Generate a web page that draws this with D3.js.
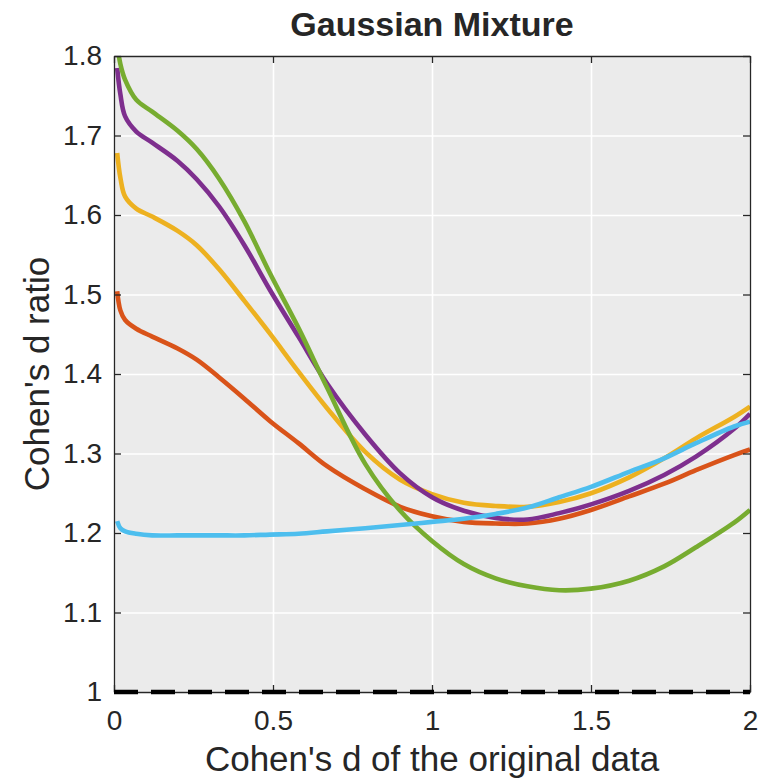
<!DOCTYPE html>
<html>
<head>
<meta charset="utf-8">
<script src="https://cdn.jsdelivr.net/npm/d3@7"></script>
<style>
  html, body { margin: 0; padding: 0; background: #ffffff; }
  svg { display: block; }
  text { font-family: "Liberation Sans", Arial, Helvetica, sans-serif; fill: #262626; }
</style>
</head>
<body>
<svg id="chart" width="777" height="782"></svg>
<script>
// ---- data ----
const xValues = [0.01, 0.02, 0.035, 0.07, 0.12, 0.2, 0.26, 0.33, 0.41, 0.49, 0.58, 0.67, 0.79, 0.9, 1.0, 1.1, 1.2, 1.3, 1.4, 1.5, 1.62, 1.73, 1.83, 1.95, 2.0];

const redSeries    = [1.504, 1.480, 1.468, 1.457, 1.447, 1.432, 1.418, 1.396, 1.369, 1.341, 1.313, 1.284, 1.255, 1.233, 1.221, 1.214, 1.212, 1.212, 1.218, 1.229, 1.246, 1.262, 1.279, 1.298, 1.305];
const yellowSeries = [1.678, 1.647, 1.623, 1.608, 1.598, 1.580, 1.562, 1.532, 1.492, 1.451, 1.403, 1.357, 1.302, 1.267, 1.249, 1.238, 1.234, 1.233, 1.239, 1.250, 1.270, 1.294, 1.319, 1.346, 1.359];
const purpleSeries = [1.785, 1.752, 1.724, 1.705, 1.691, 1.668, 1.645, 1.611, 1.562, 1.506, 1.447, 1.388, 1.324, 1.275, 1.245, 1.228, 1.219, 1.217, 1.225, 1.236, 1.253, 1.273, 1.296, 1.331, 1.350];
const greenSeries  = [1.815, 1.790, 1.770, 1.745, 1.730, 1.706, 1.683, 1.646, 1.592, 1.527, 1.458, 1.383, 1.287, 1.228, 1.190, 1.161, 1.143, 1.133, 1.128, 1.130, 1.140, 1.158, 1.182, 1.213, 1.229];
const blueSeries   = [1.215, 1.206, 1.202, 1.199, 1.197, 1.197, 1.197, 1.197, 1.197, 1.198, 1.199, 1.202, 1.206, 1.210, 1.214, 1.218, 1.224, 1.232, 1.245, 1.258, 1.277, 1.294, 1.313, 1.334, 1.340];

const seriesList = [
  { name: "red",    values: redSeries,    color: "#D95319" },
  { name: "yellow", values: yellowSeries, color: "#EDB120" },
  { name: "purple", values: purpleSeries, color: "#7E2F8E" },
  { name: "green",  values: greenSeries,  color: "#77AC30" },
  { name: "blue",   values: blueSeries,   color: "#4DBEEE" }
];

const referenceX = [0, 2];
const referenceY = [1, 1];

const xTicks = [0, 0.5, 1, 1.5, 2];
const xTickLabels = ["0", "0.5", "1", "1.5", "2"];
const yTicks = [1, 1.1, 1.2, 1.3, 1.4, 1.5, 1.6, 1.7, 1.8];
const yTickLabels = ["1", "1.1", "1.2", "1.3", "1.4", "1.5", "1.6", "1.7", "1.8"];

const titleText = "Gaussian Mixture";
const xLabelText = "Cohen's d of the original data";
const yLabelText = "Cohen's d ratio";

// ---- layout ----
const margin = { left: 114, right: 27, top: 56, bottom: 90 };
const W = 777, H = 782;
const pw = W - margin.left - margin.right;
const ph = H - margin.top - margin.bottom;

const svg = d3.select("#chart");
const x = d3.scaleLinear().domain([0, 2]).range([0, pw]);
const y = d3.scaleLinear().domain([1, 1.8]).range([ph, 0]);

const g = svg.append("g").attr("transform", `translate(${margin.left},${margin.top})`);

svg.append("defs").append("clipPath").attr("id", "clip")
  .append("rect").attr("x", 0).attr("y", 0).attr("width", pw).attr("height", ph);

// background
g.append("rect").attr("width", pw).attr("height", ph).attr("fill", "#EBEBEB");

// grid
const gridX = d3.axisBottom(x).tickValues(xTicks).tickSize(-ph).tickFormat("");
const gridY = d3.axisLeft(y).tickValues(yTicks).tickSize(-pw).tickFormat("");
g.append("g").attr("class", "grid").attr("transform", `translate(0,${ph})`).call(gridX)
  .call(s => s.select(".domain").remove())
  .call(s => s.selectAll("line").attr("stroke", "#ffffff").attr("stroke-width", 1.6));
g.append("g").attr("class", "grid").call(gridY)
  .call(s => s.select(".domain").remove())
  .call(s => s.selectAll("line").attr("stroke", "#ffffff").attr("stroke-width", 1.6));

// lines
const line = d3.line()
  .x((d, i) => x(xValues[i]))
  .y(d => y(d))
  .curve(d3.curveCatmullRom.alpha(0.5));

const plotArea = g.append("g").attr("clip-path", "url(#clip)");

seriesList.forEach(s => {
  plotArea.append("path")
    .datum(s.values)
    .attr("d", line)
    .attr("fill", "none")
    .attr("stroke", s.color)
    .attr("stroke-width", 4.6)
    .attr("stroke-linejoin", "round");
});

// axes (ticks inward on all sides)
const axisColor = "#262626";
const tickLen = 7;
function styleAxis(sel) {
  sel.select(".domain").attr("stroke", axisColor).attr("stroke-width", 1.3);
  sel.selectAll(".tick line").attr("stroke", axisColor).attr("stroke-width", 1.3);
}
const bottomAxis = g.append("g").attr("transform", `translate(0,${ph})`)
  .call(d3.axisBottom(x).tickValues(xTicks).tickFormat((d, i) => xTickLabels[i]).tickSizeInner(-tickLen).tickSizeOuter(0).tickPadding(18));
styleAxis(bottomAxis);
bottomAxis.selectAll("text").attr("font-size", 28).attr("fill", axisColor);

const leftAxis = g.append("g")
  .call(d3.axisLeft(y).tickValues(yTicks).tickFormat((d, i) => yTickLabels[i]).tickSizeInner(-tickLen).tickSizeOuter(0).tickPadding(12));
styleAxis(leftAxis);
leftAxis.selectAll("text").attr("font-size", 28).attr("fill", axisColor);

const topAxis = g.append("g")
  .call(d3.axisTop(x).tickValues(xTicks).tickFormat("").tickSizeInner(-tickLen).tickSizeOuter(0));
styleAxis(topAxis);

const rightAxis = g.append("g").attr("transform", `translate(${pw},0)`)
  .call(d3.axisRight(y).tickValues(yTicks).tickFormat("").tickSizeInner(-tickLen).tickSizeOuter(0));
styleAxis(rightAxis);

// reference dashed line at ratio = 1 (drawn over the axis)
g.append("path")
  .datum(referenceY)
  .attr("d", d3.line().x((d, i) => x(referenceX[i])).y(d => y(d)))
  .attr("fill", "none")
  .attr("stroke", "#000000")
  .attr("stroke-width", 4.5)
  .attr("stroke-dasharray", "24,13");

// titles
svg.append("text")
  .attr("x", margin.left + pw / 2).attr("y", 36)
  .attr("text-anchor", "middle")
  .attr("font-size", 34).attr("font-weight", "bold")
  .attr("fill", "#000000")
  .text(titleText);

svg.append("text")
  .attr("x", margin.left + pw / 2).attr("y", 771)
  .attr("text-anchor", "middle")
  .attr("font-size", 35)
  .text(xLabelText);

svg.append("text")
  .attr("transform", `translate(49,${margin.top + ph / 2}) rotate(-90)`)
  .attr("text-anchor", "middle")
  .attr("font-size", 35)
  .text(yLabelText);
</script>
</body>
</html>
